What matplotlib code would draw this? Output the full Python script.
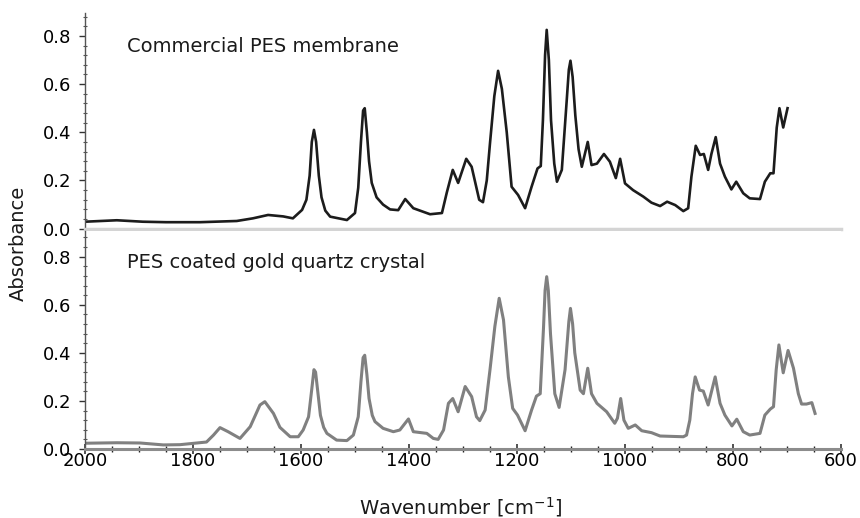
import numpy as np
import matplotlib
matplotlib.use("Agg")
import matplotlib.pyplot as plt
from matplotlib.ticker import MultipleLocator

# FTIR spectra: wavenumber [cm-1] and absorbance
wn_membrane = [2000, 1941, 1893, 1850, 1787, 1719, 1689, 1661, 1633, 1615,
               1598, 1590, 1584, 1580, 1576, 1572, 1567, 1562, 1555, 1546,
               1515, 1500, 1494, 1489, 1485, 1482, 1478, 1474, 1469, 1460,
               1448, 1435, 1420, 1407, 1392, 1361, 1339, 1330, 1319, 1309,
               1294, 1284, 1270, 1263, 1256, 1250, 1242, 1235, 1228, 1219,
               1210, 1198, 1185, 1173, 1162, 1156, 1152, 1148, 1145, 1141,
               1137, 1131, 1126, 1117, 1108, 1104, 1101, 1097, 1092, 1086,
               1080, 1069, 1062, 1052, 1039, 1028, 1017, 1009, 1000, 985,
               966, 951, 935, 922, 907, 892, 883, 877, 869, 861,
               854, 846, 840, 832, 824, 815, 803, 794, 781, 769,
               750, 741, 731, 725, 719, 714, 707, 699]
abs_membrane = [0.029, 0.035, 0.029, 0.027, 0.027, 0.032, 0.043, 0.057, 0.051, 0.043,
                0.078, 0.12, 0.22, 0.36, 0.41, 0.36, 0.22, 0.13, 0.075, 0.05,
                0.036, 0.065, 0.17, 0.36, 0.49, 0.50, 0.40, 0.28, 0.19, 0.13,
                0.10, 0.08, 0.077, 0.123, 0.085, 0.06, 0.065, 0.15, 0.244, 0.19,
                0.29, 0.257, 0.12, 0.11, 0.20, 0.355, 0.55, 0.655, 0.58, 0.40,
                0.174, 0.14, 0.085, 0.174, 0.25, 0.26, 0.45, 0.72, 0.825, 0.70,
                0.45, 0.27, 0.195, 0.244, 0.53, 0.66, 0.697, 0.63, 0.47, 0.33,
                0.257, 0.36, 0.264, 0.27, 0.31, 0.278, 0.21, 0.29, 0.188, 0.16,
                0.133, 0.108, 0.094, 0.112, 0.098, 0.073, 0.085, 0.216, 0.344, 0.306,
                0.31, 0.244, 0.31, 0.38, 0.27, 0.216, 0.163, 0.195, 0.147, 0.126,
                0.123, 0.195, 0.23, 0.23, 0.42, 0.50, 0.42, 0.50]

wn_crystal = [2000, 1941, 1898, 1855, 1824, 1775, 1762, 1750, 1735, 1713,
              1694, 1676, 1667, 1651, 1639, 1620, 1605, 1596, 1586, 1580,
              1576, 1573, 1569, 1564, 1558, 1552, 1534, 1515, 1503, 1494,
              1489, 1485, 1482, 1478, 1474, 1468, 1463, 1448, 1429, 1417,
              1401, 1392, 1367, 1355, 1346, 1336, 1327, 1319, 1309, 1296,
              1284, 1275, 1269, 1259, 1250, 1241, 1233, 1225, 1216, 1208,
              1199, 1185, 1173, 1164, 1157, 1151, 1148, 1145, 1142, 1138,
              1130, 1122, 1111, 1104, 1101, 1097, 1093, 1083, 1077, 1069,
              1062, 1052, 1034, 1019, 1014, 1008, 1002, 994, 981, 969,
              951, 935, 892, 886, 880, 875, 870, 862, 855, 846,
              833, 824, 815, 802, 793, 781, 769, 750, 741, 731,
              725, 720, 715, 707, 698, 688, 679, 673, 664, 654,
              648]
abs_crystal = [0.024, 0.026, 0.025, 0.017, 0.018, 0.029, 0.058, 0.089, 0.072, 0.044,
               0.093, 0.183, 0.197, 0.148, 0.09, 0.051, 0.051, 0.079, 0.134, 0.25,
               0.33, 0.32, 0.24, 0.14, 0.09, 0.065, 0.037, 0.035, 0.058, 0.134,
               0.28, 0.38, 0.39, 0.31, 0.21, 0.14, 0.114, 0.086, 0.072, 0.079,
               0.125, 0.072, 0.065, 0.044, 0.04, 0.079, 0.19, 0.21, 0.155, 0.26,
               0.218, 0.134, 0.118, 0.162, 0.33, 0.51, 0.627, 0.537, 0.30, 0.169,
               0.141, 0.076, 0.162, 0.22, 0.23, 0.50, 0.66, 0.717, 0.66, 0.48,
               0.23, 0.173, 0.33, 0.53, 0.585, 0.52, 0.40, 0.245, 0.23, 0.336,
               0.23, 0.19, 0.155, 0.107, 0.128, 0.21, 0.12, 0.086, 0.10, 0.076,
               0.068, 0.054, 0.051, 0.058, 0.12, 0.23, 0.30, 0.245, 0.241, 0.183,
               0.30, 0.19, 0.141, 0.096, 0.124, 0.072, 0.058, 0.065, 0.141, 0.166,
               0.176, 0.33, 0.433, 0.317, 0.41, 0.336, 0.23, 0.187, 0.187, 0.193,
               0.148]

x_ticks = [2000, 1800, 1600, 1400, 1200, 1000, 800, 600]
y_ticks = [0.0, 0.2, 0.4, 0.6, 0.8]

W, H = 860, 518
fig = plt.figure(figsize=(W / 100, H / 100), dpi=100)
ax1 = fig.add_axes([85 / W, 1 - 228.7 / H, 756 / W, (228.7 - 13) / H])
ax2 = fig.add_axes([85 / W, 1 - 449 / H, 756 / W, (449 - 231) / H])

ax1.plot(wn_membrane, abs_membrane, color="#1c1c1c", lw=1.9)
ax2.plot(wn_crystal, abs_crystal, color="#808080", lw=2.2)

for ax, top in ((ax1, 0.895), (ax2, 0.907)):
    ax.set_xlim(2000, 600)
    ax.set_ylim(0, top)
    ax.spines["top"].set_visible(False)
    ax.spines["right"].set_visible(False)
    ax.spines["left"].set_color("#555555")
    ax.spines["left"].set_linewidth(1.0)
    ax.set_yticks(y_ticks)
    ax.set_yticklabels([f"{v:.1f}" for v in y_ticks])
    ax.yaxis.set_minor_locator(MultipleLocator(0.04))
    ax.tick_params(axis="y", which="major", direction="out", length=4,
                   width=1, color="#333333", labelsize=13, pad=6)
    ax.tick_params(axis="y", which="minor", direction="inout", length=2.5,
                   width=0.8, color="#555555")

# upper panel: plain light baseline, no x ticks
ax1.spines["bottom"].set_color("#d4d4d4")
ax1.spines["bottom"].set_linewidth(2.5)
ax1.tick_params(axis="x", which="both", bottom=False, labelbottom=False)

# lower panel: shared wavenumber axis
ax2.spines["bottom"].set_color("#8c8c8c")
ax2.spines["bottom"].set_linewidth(2.2)
ax2.set_xticks(x_ticks)
ax2.set_xticklabels([str(v) for v in x_ticks])
ax2.xaxis.set_minor_locator(MultipleLocator(50))
ax2.tick_params(axis="x", which="major", direction="inout", length=7,
                width=1.1, color="#222222", labelsize=13, pad=-1)
ax2.tick_params(axis="x", which="minor", direction="inout", length=5,
                width=1.0, color="#222222")

ax1.text(1922, 0.754, "Commercial PES membrane", fontsize=14,
         color="#1a1a1a", va="center", ha="left")
ax2.text(1922, 0.774, "PES coated gold quartz crystal", fontsize=14,
         color="#1a1a1a", va="center", ha="left")

fig.text(18 / W, 1 - 243 / H, "Absorbance", rotation=90, fontsize=14,
         color="#1a1a1a", va="center", ha="center")
fig.text(461 / W, 1 - 507 / H, r"Wavenumber [cm$^{-1}$]", fontsize=14,
         color="#1a1a1a", va="center", ha="center")

fig.savefig("out.png", dpi=100)
